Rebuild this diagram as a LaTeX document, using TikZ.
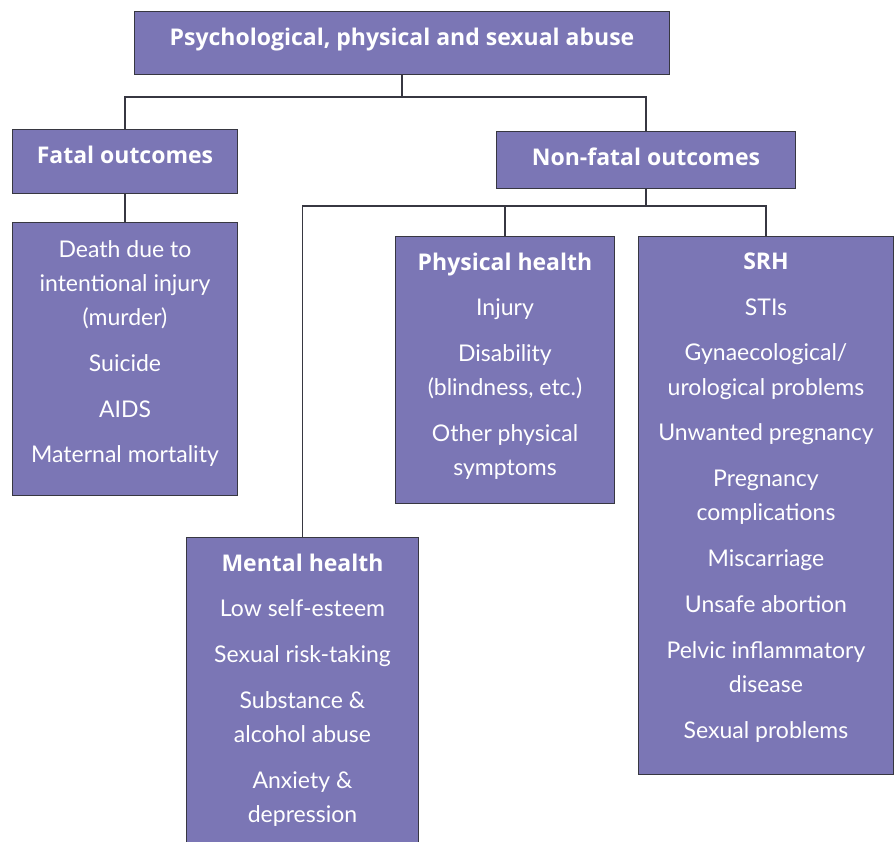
\documentclass[tikz,border=0pt]{standalone}
\usepackage{fontspec}
\setmainfont{Lato}
\newfontfamily\headfont{Open Sans}
\usetikzlibrary{positioning}
\definecolor{boxfill}{RGB}{123,118,181}
\definecolor{edge}{RGB}{55,55,65}
\tikzset{
  box/.style={draw=edge, line width=1pt, fill=boxfill, anchor=north west, inner sep=0pt},
  txt/.style={anchor=north, align=center, text=white, inner sep=0pt, font=\fontsize{23}{34.2}\selectfont},
  link/.style={draw=edge, line width=1.3pt},
}
\newcommand{\hd}[1]{{\headfont\bfseries #1}}
\begin{document}
\begin{tikzpicture}[x=1pt, y=-1pt]
  \useasboundingbox (0,0) rectangle (896,842);
  \clip (0,0) rectangle (896,842);

  \node[box, minimum width=535pt, minimum height=63pt] (top) at (134,11) {};
  \node[box, minimum width=225pt, minimum height=64pt] (fatal) at (12,129) {};
  \node[box, minimum width=299pt, minimum height=57pt] (nonfatal) at (496,131) {};
  \node[box, minimum width=225pt, minimum height=273pt] (fataldet) at (12,222) {};
  \node[box, minimum width=219pt, minimum height=267pt] (physical) at (395,236) {};
  \node[box, minimum width=255pt, minimum height=538pt] (srh) at (638,236) {};
  \node[box, minimum width=232pt, minimum height=312pt] (mental) at (186,537) {};

  \node[txt] (top-t) at ([yshift=-17pt]top.north) {\hd{Psychological, physical and sexual abuse}};
  \node[txt] (fatal-t) at ([yshift=-17pt]fatal.north) {\hd{Fatal outcomes}};
  \node[txt] (nonfatal-t) at ([yshift=-17pt]nonfatal.north) {\hd{Non-fatal outcomes}};
  \node[txt] (fataldet-t) at ([yshift=-18pt]fataldet.north) {Death due to\\intentional injury\\(murder)\\[11.6pt]Suicide\\[11.6pt]AIDS\\[11.6pt]Maternal mortality};
  \node[txt] (physical-t) at ([yshift=-17pt]physical.north) {\hd{Physical health}\\[11pt]Injury\\[11.6pt]Disability\\(blindness, etc.)\\[11.6pt]Other physical\\symptoms};
  \node[txt] (srh-t) at ([yshift=-17pt]srh.north) {\hd{SRH}\\[11pt]STIs\\[11.6pt]Gynaecological/\\urological problems\\[11.6pt]Unwanted pregnancy\\[11.6pt]Pregnancy\\complications\\[11.6pt]Miscarriage\\[11.6pt]Unsafe abortion\\[11.6pt]Pelvic inflammatory\\disease\\[11.6pt]Sexual problems};
  \node[txt] (mental-t) at ([yshift=-17pt]mental.north) {\hd{Mental health}\\[11pt]Low self-esteem\\[11.6pt]Sexual risk-taking\\[11.6pt]Substance \&\\alcohol abuse\\[11.6pt]Anxiety \&\\depression};

  \coordinate (j1) at (0,97);
  \coordinate (j2) at (0,206);
  \draw[link] (top.south) -- (top.south |- j1) -| (fatal.north);
  \draw[link] (top.south |- j1) -| (nonfatal.north);
  \draw[link] (fatal.south) -- (fataldet.north);
  \draw[link] (nonfatal.south) -- (nonfatal.south |- j2) -| (mental.north);
  \draw[link] (nonfatal.south |- j2) -| (physical.north);
  \draw[link] (nonfatal.south |- j2) -| (srh.north);
\end{tikzpicture}
\end{document}
